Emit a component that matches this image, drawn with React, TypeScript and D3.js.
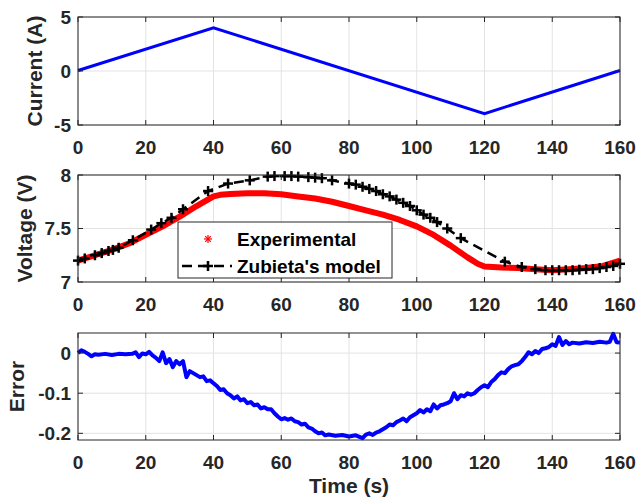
import React from "react";
import * as d3 from "d3";

const xTicks = [0, 20, 40, 60, 80, 100, 120, 140, 160];
const currentTicks = [-5, 0, 5];
const voltageTicks = [7, 7.5, 8];
const errorTicks = [-0.2, -0.1, 0];

const currentT = [0, 40, 120, 160];
const currentV = [0.05, 4, -3.95, 0.05];

const expT = [0, 5, 10, 15, 20, 25, 30, 35, 40, 42, 45, 50, 55, 60, 65, 70, 75, 80, 85, 90, 95, 100, 105, 110, 115, 118, 120, 125, 130, 135, 140, 145, 150, 155, 160];
const expV = [7.2, 7.25, 7.3, 7.36, 7.44, 7.52, 7.61, 7.71, 7.8, 7.815, 7.822, 7.83, 7.83, 7.82, 7.8, 7.78, 7.75, 7.71, 7.67, 7.63, 7.58, 7.52, 7.44, 7.34, 7.23, 7.17, 7.145, 7.135, 7.13, 7.12, 7.11, 7.12, 7.13, 7.15, 7.2];

const modelT = [0, 2, 5, 7, 9, 10.3, 12, 16.2, 21.6, 24.6, 27.6, 31, 38.4, 44.3, 50.7, 56, 58, 61, 63, 65, 68, 70, 72, 75, 80, 82, 84, 86, 88, 90, 92, 94, 96, 98, 100, 102, 104, 106, 109, 113, 126, 131, 135, 138, 140, 142, 144, 146, 148, 150, 152, 154, 156, 158, 160];
const modelV = [7.2, 7.22, 7.25, 7.27, 7.29, 7.3, 7.32, 7.39, 7.49, 7.55, 7.6, 7.68, 7.85, 7.92, 7.95, 7.985, 7.99, 7.99, 7.99, 7.985, 7.98, 7.975, 7.97, 7.95, 7.92, 7.91, 7.89, 7.87, 7.85, 7.82, 7.8, 7.77, 7.74, 7.71, 7.67, 7.63, 7.6, 7.56, 7.5, 7.41, 7.19, 7.14, 7.12, 7.11, 7.11, 7.11, 7.11, 7.11, 7.115, 7.12, 7.12, 7.13, 7.14, 7.15, 7.17];

const errT = [0,1,2,3,4,5,6,8,10,12,14,16,17,18,19,20,21,22,23,24,25,26,27,28,29,30,31,32,33,34,35,36,37,38,39,40,41,42,43,44,45,46,47,48,49,50,51,52,53,54,55,56,57,58,59,60,61,62,63,64,65,66,67,68,69,70,71,72,73,74,76,78,80,82,84,85,86,87,88,89,90,91,92,93,94,95,96,97,98,99,100,101,102,103,104,105,106,107,108,109,110,111,112,113,114,115,116,117,118,119,120,121,122,123,124,125,126,127,128,129,130,131,132,133,134,135,136,137,138,139,140,141,142,143,144,145,146,148,150,152,154,156,157,158,159,160];
const errV = [0,0.007,0.003,-0.002,-0.008,-0.003,-0.004,-0.002,-0.005,-0.002,-0.003,-0.002,0.002,-0.01,-0.001,-0.003,0.003,-0.006,-0.012,-0.02,0.002,-0.025,-0.015,-0.035,-0.02,-0.028,-0.02,-0.06,-0.045,-0.05,-0.055,-0.06,-0.058,-0.07,-0.068,-0.075,-0.082,-0.092,-0.09,-0.1,-0.105,-0.113,-0.108,-0.118,-0.115,-0.125,-0.122,-0.13,-0.128,-0.138,-0.135,-0.14,-0.14,-0.15,-0.158,-0.165,-0.162,-0.166,-0.163,-0.17,-0.172,-0.178,-0.176,-0.185,-0.188,-0.195,-0.2,-0.198,-0.205,-0.203,-0.206,-0.204,-0.208,-0.205,-0.212,-0.203,-0.2,-0.204,-0.198,-0.195,-0.19,-0.185,-0.178,-0.18,-0.172,-0.168,-0.163,-0.17,-0.16,-0.155,-0.15,-0.142,-0.148,-0.14,-0.145,-0.128,-0.138,-0.13,-0.128,-0.125,-0.12,-0.1,-0.115,-0.105,-0.108,-0.1,-0.104,-0.1,-0.092,-0.085,-0.08,-0.085,-0.072,-0.065,-0.055,-0.048,-0.05,-0.04,-0.033,-0.03,-0.028,-0.02,-0.01,0.002,-0.003,0.005,0,0.01,0.012,0.015,0.022,0.018,0.04,0.02,0.03,0.022,0.026,0.024,0.027,0.025,0.028,0.026,0.028,0.048,0.027,0.026];

const FONT = "'Liberation Sans', Arial, Helvetica, sans-serif";
const AX = "#262626";
const GRID = "#e3e3e3";
const X0 = 78, X1 = 620;

const x = d3.scaleLinear().domain([0, 160]).range([X0, X1]);

type PanelProps = {
  top: number; bottom: number; domain: [number, number]; yTicks: number[];
  fmt: (v: number) => string; label: string; labelX: number; children?: any;
};

function Panel({ top, bottom, domain, yTicks, fmt, label, labelX, children }: PanelProps) {
  const y = d3.scaleLinear().domain(domain).range([bottom, top]);
  const tl = 5;
  return (
    <g>
      {xTicks.map((t) => (
        <line key={"gx" + t} x1={x(t)} x2={x(t)} y1={top} y2={bottom} stroke={GRID} strokeWidth={1} />
      ))}
      {yTicks.map((t) => (
        <line key={"gy" + t} x1={X0} x2={X1} y1={y(t)} y2={y(t)} stroke={GRID} strokeWidth={1} />
      ))}
      {children && children(y)}
      <rect x={X0} y={top} width={X1 - X0} height={bottom - top} fill="none" stroke={AX} strokeWidth={1} />
      {xTicks.map((t) => (
        <g key={"tx" + t}>
          <line x1={x(t)} x2={x(t)} y1={bottom} y2={bottom - tl} stroke={AX} />
          <line x1={x(t)} x2={x(t)} y1={top} y2={top + tl} stroke={AX} />
          <text x={x(t)} y={bottom + 29} textAnchor="middle" fontFamily={FONT} fontWeight="bold" fontSize={19} fill={AX}>{t}</text>
        </g>
      ))}
      {yTicks.map((t) => (
        <g key={"ty" + t}>
          <line x1={X0} x2={X0 + tl} y1={y(t)} y2={y(t)} stroke={AX} />
          <line x1={X1} x2={X1 - tl} y1={y(t)} y2={y(t)} stroke={AX} />
          <text x={71} y={y(t)} dy="0.35em" textAnchor="end" fontFamily={FONT} fontWeight="bold" fontSize={19} fill={AX}>{fmt(t)}</text>
        </g>
      ))}
      <text transform={`translate(${labelX},${(top + bottom) / 2}) rotate(-90)`} dy="0.35em" textAnchor="middle" fontFamily={FONT} fontWeight="bold" fontSize={21} fill={AX}>{label}</text>
    </g>
  );
}

function Plus({ cx, cy, s = 5 }: { cx: number; cy: number; s?: number }) {
  return (
    <g stroke="#000" strokeWidth={2.5}>
      <line x1={cx - s} x2={cx + s} y1={cy} y2={cy} />
      <line x1={cx} x2={cx} y1={cy - s} y2={cy + s} />
    </g>
  );
}

function Star({ cx, cy, s = 4 }: { cx: number; cy: number; s?: number }) {
  const d = s * 0.7;
  return (
    <g stroke="#ff0000" strokeWidth={1.2}>
      <line x1={cx - s} x2={cx + s} y1={cy} y2={cy} />
      <line x1={cx} x2={cx} y1={cy - s} y2={cy + s} />
      <line x1={cx - d} x2={cx + d} y1={cy - d} y2={cy + d} />
      <line x1={cx - d} x2={cx + d} y1={cy + d} y2={cy - d} />
    </g>
  );
}

export default function App() {
  const line = (ts: number[], vs: number[], y: d3.ScaleLinear<number, number>) =>
    d3.line<number>().x((_, i) => x(ts[i])).y((v) => y(v))(vs) as string;

  return (
    <svg width={640} height={499} style={{ position: "fixed", left: 0, top: 0, background: "#fff" }}>
      <rect width={640} height={499} fill="#fff" />
      <Panel top={17} bottom={125} domain={[-5, 5]} yTicks={currentTicks} fmt={(v) => String(v)} label="Current (A)" labelX={35}>
        {(y: any) => (
          <path d={line(currentT, currentV, y)} fill="none" stroke="#0000ff" strokeWidth={3} />
        )}
      </Panel>
      <Panel top={175} bottom={282} domain={[7, 8]} yTicks={voltageTicks} fmt={(v) => String(v)} label="Voltage (V)" labelX={25}>
        {(y: any) => (
          <g>
            <path d={line(expT, expV, y)} fill="none" stroke="#ff0000" strokeWidth={6} strokeLinejoin="round" />
            <path d={line(modelT, modelV, y)} fill="none" stroke="#000" strokeWidth={2.5} strokeDasharray="10,6" />
            {modelT.map((t, i) => (
              <Plus key={i} cx={x(t)} cy={y(modelV[i])} />
            ))}
          </g>
        )}
      </Panel>
      <Panel top={333} bottom={440} domain={[-0.2166, 0.05]} yTicks={errorTicks} fmt={(v) => (v === 0 ? "0" : String(v))} label="Error" labelX={17}>
        {(y: any) => (
          <path d={line(errT, errV, y)} fill="none" stroke="#0000ff" strokeWidth={4} strokeLinejoin="round" />
        )}
      </Panel>
      <text x={349} y={493} textAnchor="middle" fontFamily={FONT} fontWeight="bold" fontSize={21} fill={AX}>Time (s)</text>
      <g>
        <rect x={178} y={222} width={214} height={56} fill="#fff" stroke={AX} strokeWidth={1} />
        <Star cx={208} cy={239} />
        <text x={237} y={239} dy="0.35em" fontFamily={FONT} fontWeight="bold" fontSize={19} fill="#000">Experimental</text>
        <line x1={182} x2={232} y1={266} y2={266} stroke="#000" strokeWidth={2.5} strokeDasharray="10,6" />
        <Plus cx={208} cy={266} />
        <text x={237} y={266} dy="0.35em" fontFamily={FONT} fontWeight="bold" fontSize={19} fill="#000">Zubieta's model</text>
      </g>
    </svg>
  );
}
